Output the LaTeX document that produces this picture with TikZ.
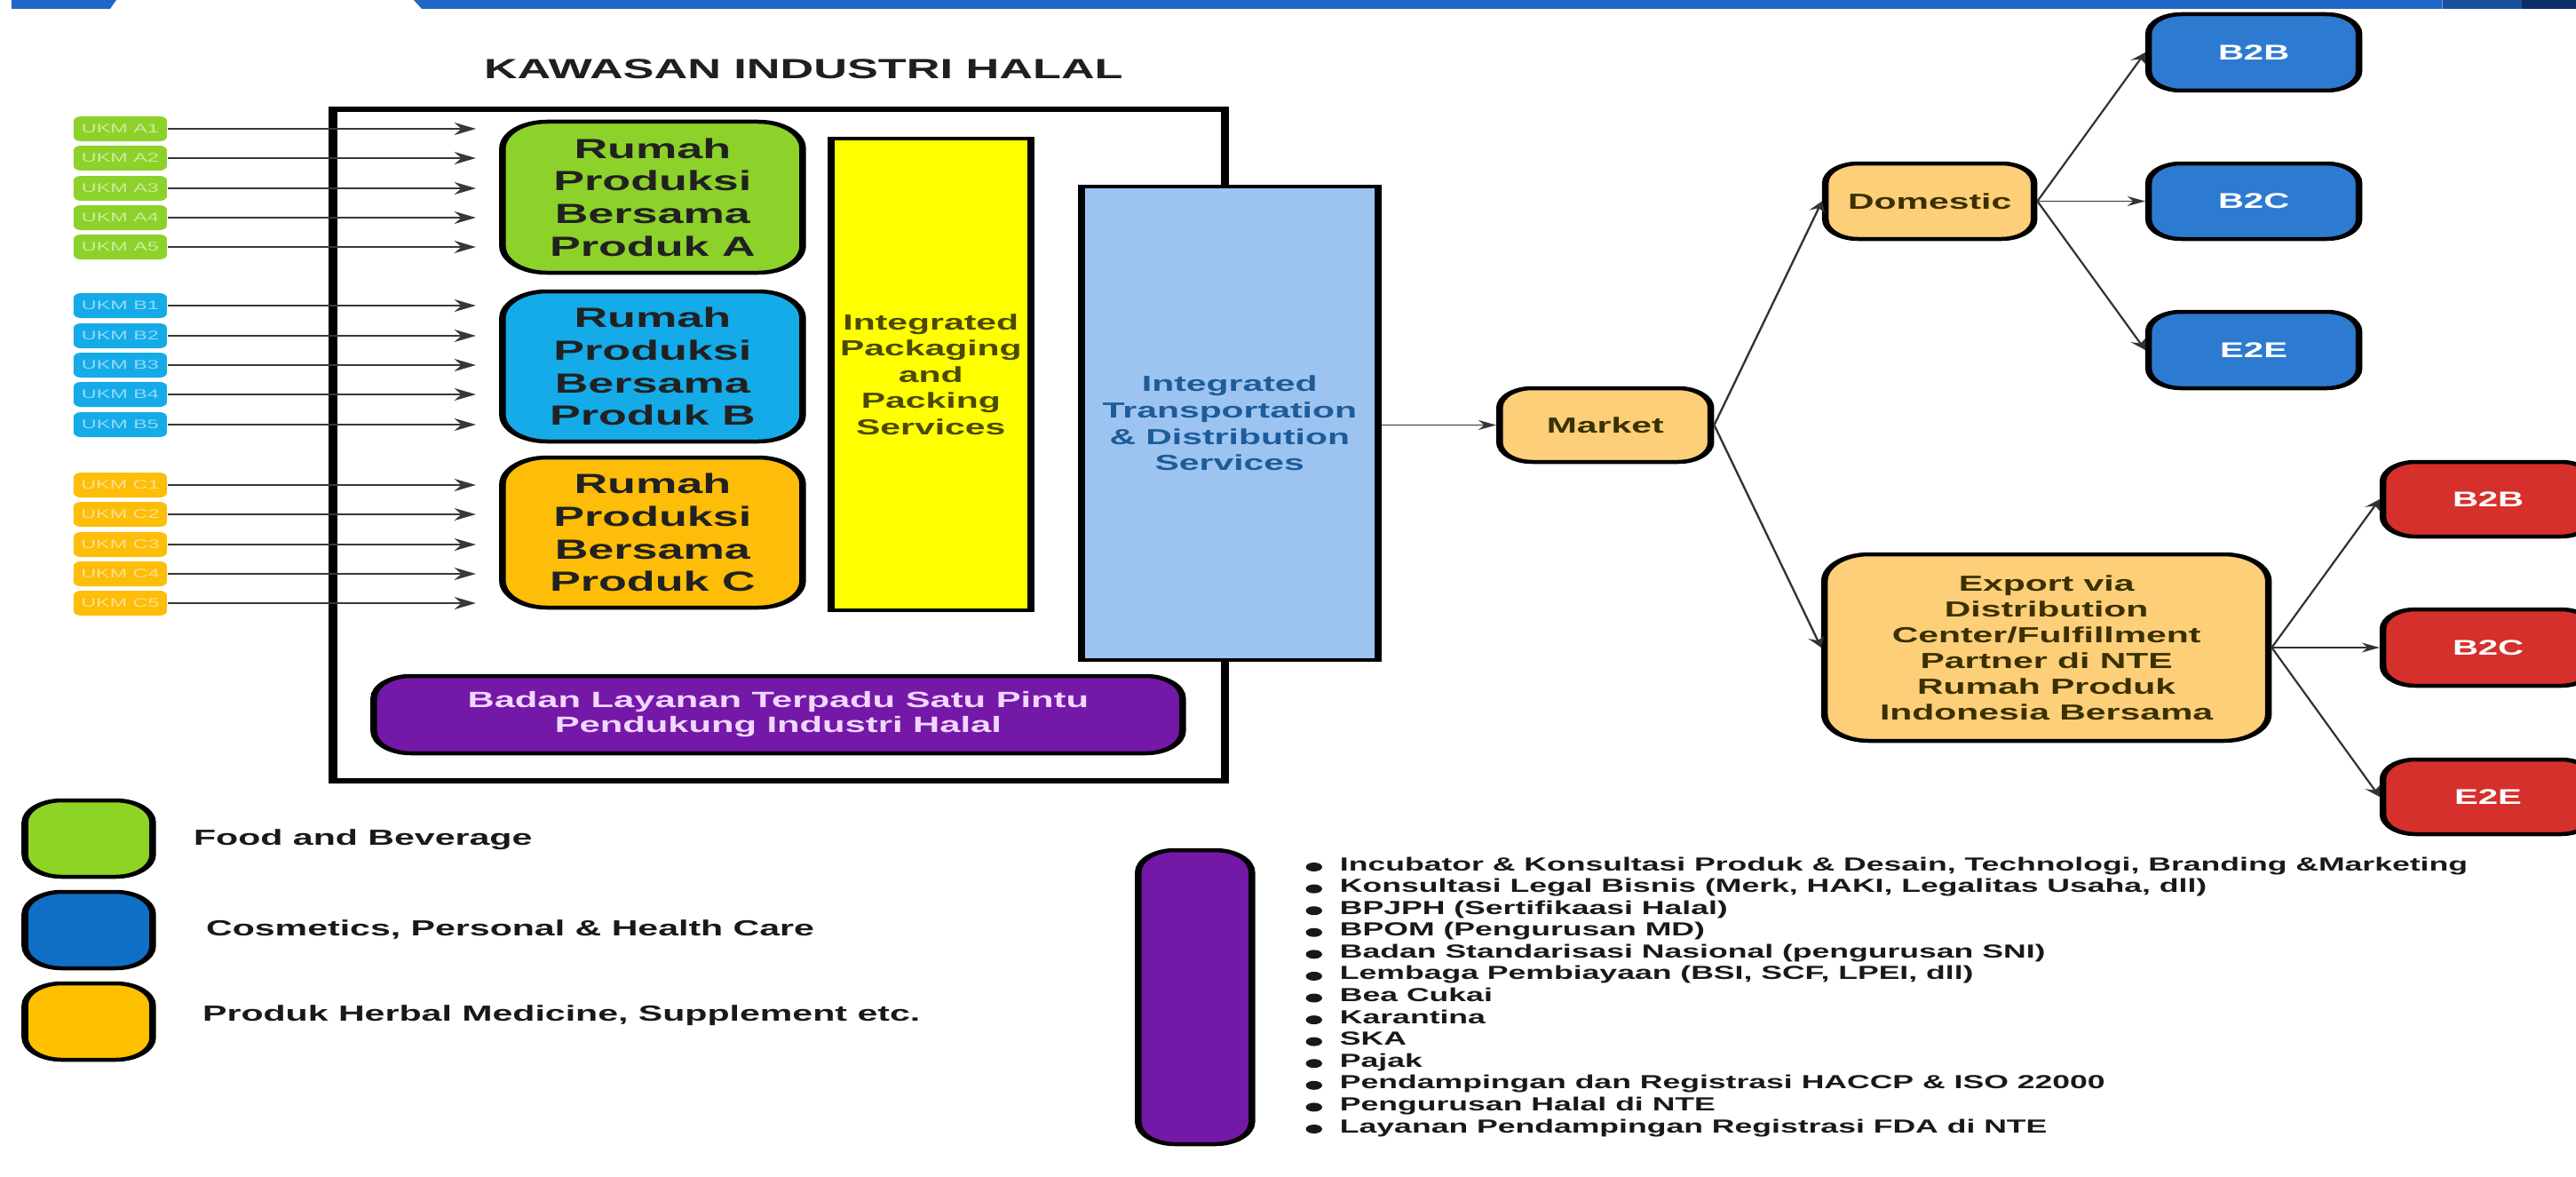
\documentclass[tikz,border=0pt]{standalone}
\usepackage{fontspec}
\setmainfont{Liberation Sans}
\usetikzlibrary{arrows.meta}
\definecolor{cbanner}{HTML}{1F67C6}
\definecolor{cbanner2}{HTML}{17509C}
\definecolor{cbanner3}{HTML}{0E2E66}
\definecolor{cgreen}{HTML}{8DD22A}
\definecolor{cblue}{HTML}{14ABE8}
\definecolor{corange}{HTML}{FDBD08}
\definecolor{lgreen}{HTML}{8ED424}
\definecolor{lblue}{HTML}{0F6FC6}
\definecolor{lorange}{HTML}{FFC000}
\definecolor{cyel}{HTML}{FFFF00}
\definecolor{cltblue}{HTML}{9DC4F1}
\definecolor{cpurp}{HTML}{7418A8}
\definecolor{cmkt}{HTML}{FCCF78}
\definecolor{cbb}{HTML}{2D7BD0}
\definecolor{cred}{HTML}{D5302B}
\definecolor{tyel}{HTML}{4B4A05}
\definecolor{tblue}{HTML}{1D5C99}
\definecolor{tmkt}{HTML}{3B3000}
\definecolor{tpurp}{HTML}{F2D6FF}
\tikzset{
 bx/.style 2 args={minimum width=#1*0.0598802mm, minimum height=#2*0.1mm},
 ukm/.style={rounded corners=0.5mm, inner sep=0pt, font=\fontsize{3.98pt}{4.5pt}\selectfont},
 rbox/.style={draw=black, line width=0.45mm, rounded corners=3mm, inner sep=0pt, align=center, text=black!87, font=\fontsize{8.88pt}{10.44pt}\selectfont\bfseries},
 sbox/.style={draw=black, line width=0.45mm, inner sep=0pt, align=center, font=\fontsize{6.97pt}{8.4pt}\selectfont\bfseries},
 obox/.style={draw=black, line width=0.45mm, rounded corners=2.2mm, inner sep=0pt, align=center, fill=cmkt, text=tmkt, font=\fontsize{6.97pt}{8.25pt}\selectfont\bfseries},
 cbox/.style={draw=black, line width=0.45mm, rounded corners=2.2mm, inner sep=0pt, text=white, font=\fontsize{6.83pt}{8pt}\selectfont\bfseries},
 lgbox/.style={draw=black, line width=0.45mm, rounded corners=2.5mm, inner sep=0pt, bx={144}{86}},
 lgtext/.style={anchor=west, inner sep=0pt, text=black!90, font=\fontsize{7pt}{8pt}\selectfont\bfseries},
 bul/.style={anchor=base west, inner sep=0pt, text=black!90, font=\fontsize{6.06pt}{7pt}\selectfont\bfseries},
 dot/.style={fill=black!90},
 uarr/.style={draw=black!78, line width=0.18mm, -{Stealth[length=1.45mm,width=1.4mm]}},
 arr/.style={draw=black!80, line width=0.15mm, -{Stealth[length=1.2mm,width=1.1mm]}},
}
\begin{document}
\begin{tikzpicture}
\useasboundingbox (0,0) rectangle (290.1mm,-132.5mm);
\begin{scope}[x=0.0598802mm, y=-0.1mm, transform canvas={xscale=1.67}]
% banner
\fill[cbanner] (13,0) -- (131,0) -- (124,10) -- (13,10) -- cycle;
\fill[cbanner] (466,0) -- (2751,0) -- (2751,10) -- (475,10) -- cycle;
\fill[cbanner2] (2751,0) rectangle (2840,10);
\fill[cbanner3] (2840,0) rectangle (2901,10);
% title
\node[inner sep=0pt, font=\fontsize{8.9pt}{10pt}\selectfont\bfseries, text=black!88] (title) at (905,78) {KAWASAN INDUSTRI HALAL};
% frame
\node[draw=black, line width=0.55mm, inner sep=0pt, bx={1005}{756}] (frame) at (877.5,501) {};
% UKM
\foreach \i/\y in {1/145,2/178,3/212,4/245,5/278}{
  \node[ukm, fill=cgreen, text=white!55!cgreen, bx={105}{28}] (uA\i) at (135.5,\y) {UKM A\i};
  \coordinate (tA\i) at (536,\y);
  \draw[uarr] (uA\i) -- (tA\i);
}
\foreach \i/\y in {1/344,2/378,3/411,4/444,5/478}{
  \node[ukm, fill=cblue, text=white!55!cblue, bx={105}{28}] (uB\i) at (135.5,\y) {UKM B\i};
  \coordinate (tB\i) at (536,\y);
  \draw[uarr] (uB\i) -- (tB\i);
}
\foreach \i/\y in {1/546,2/579,3/613,4/646,5/679}{
  \node[ukm, fill=corange, text=white!55!corange, bx={105}{28}] (uC\i) at (135.5,\y) {UKM C\i};
  \coordinate (tC\i) at (536,\y);
  \draw[uarr] (uC\i) -- (tC\i);
}
% rumah produksi
\node[rbox, fill=cgreen, bx={338}{170}] (ra) at (735,222) {Rumah\\Produksi\\Bersama\\Produk A};
\node[rbox, fill=cblue, bx={338}{169}] (rb) at (735,412.5) {Rumah\\Produksi\\Bersama\\Produk B};
\node[rbox, fill=corange, bx={338}{169}] (rc) at (735,599.5) {Rumah\\Produksi\\Bersama\\Produk C};
% packaging
\node[sbox, fill=cyel, text=tyel, bx={225}{531}] (pack) at (1048.5,421.5) {Integrated\\Packaging\\and\\Packing\\Services};
% transport
\node[sbox, fill=cltblue, text=tblue, bx={334}{533}] (trans) at (1385,476.5) {Integrated\\Transportation\\\& Distribution\\Services};
% purple
\node[draw=black, line width=0.45mm, rounded corners=2.5mm, inner sep=0pt, fill=cpurp, text=tpurp, align=center, font=\fontsize{7.11pt}{7.97pt}\selectfont\bfseries, bx={911}{87}] (badan) at (876.5,804.5) {Badan Layanan Terpadu Satu Pintu\\Pendukung Industri Halal};
% market tree
\node[obox, bx={238}{83}] (market) at (1808,478.5) {Market};
\node[obox, bx={235}{85}] (dom) at (2173.5,226.5) {Domestic};
\node[obox, rounded corners=3mm, bx={500}{210}] (exp) at (2305,729) {Export via\\Distribution\\Center/Fulfillment\\Partner di NTE\\Rumah Produk\\Indonesia Bersama};
\node[cbox, fill=cbb, bx={237}{86}] (db2b) at (2538.5,59) {B2B};
\node[cbox, fill=cbb, bx={237}{85}] (db2c) at (2538.5,226.5) {B2C};
\node[cbox, fill=cbb, bx={237}{86}] (de2e) at (2538.5,394) {E2E};
\node[cbox, fill=cred, bx={237}{84}] (eb2b) at (2802.5,562) {B2B};
\node[cbox, fill=cred, bx={237}{86}] (eb2c) at (2802.5,729) {B2C};
\node[cbox, fill=cred, bx={237}{84}] (ee2e) at (2802.5,897) {E2E};
\draw[arr] (trans.east |- market) -- (market.west);
\draw[arr] (market.east) -- (dom.west);
\draw[arr] (market.east) -- (exp.west);
\draw[arr] (dom.east) -- (db2b.west);
\draw[arr] (dom.east) -- (db2c.west);
\draw[arr] (dom.east) -- (de2e.west);
\draw[arr] (exp.east) -- (eb2b.west);
\draw[arr] (exp.east) -- (eb2c.west);
\draw[arr] (exp.east) -- (ee2e.west);
% legend
\node[lgbox, fill=lgreen] (lg1) at (100,944) {};
\node[lgbox, fill=lblue] (lg2) at (100,1047) {};
\node[lgbox, fill=lorange] (lg3) at (100,1150) {};
\node[lgtext] (lt1) at (217,945) {Food and Beverage};
\node[lgtext] (lt2) at (231,1046) {Cosmetics, Personal \& Health Care};
\node[lgtext] (lt3) at (227,1143) {Produk Herbal Medicine, Supplement etc.};
\node[draw=black, line width=0.45mm, rounded corners=2.5mm, inner sep=0pt, fill=cpurp, bx={128}{331}] (lg4) at (1346,1122.5) {};
% services list
\foreach \y in {980,1004.6,1029.2,1053.7,1078.3,1102.9,1127.5,1152.1,1176.6,1201.2,1225.8,1250.4,1275}{
  \fill[dot] (1480,\y-4) ellipse [x radius=0.55mm, y radius=0.5mm];
}
\node[bul] (s1) at (1508,980) {Incubator \& Konsultasi Produk \& Desain, Technologi, Branding \&Marketing};
\node[bul] (s2) at (1508,1004.6) {Konsultasi Legal Bisnis (Merk, HAKI, Legalitas Usaha, dll)};
\node[bul] (s3) at (1508,1029.2) {BPJPH (Sertifikaasi Halal)};
\node[bul] (s4) at (1508,1053.7) {BPOM (Pengurusan MD)};
\node[bul] (s5) at (1508,1078.3) {Badan Standarisasi Nasional (pengurusan SNI)};
\node[bul] (s6) at (1508,1102.9) {Lembaga Pembiayaan (BSI, SCF, LPEI, dll)};
\node[bul] (s7) at (1508,1127.5) {Bea Cukai};
\node[bul] (s8) at (1508,1152.1) {Karantina};
\node[bul] (s9) at (1508,1176.6) {SKA};
\node[bul] (s10) at (1508,1201.2) {Pajak};
\node[bul] (s11) at (1508,1225.8) {Pendampingan dan Registrasi HACCP \& ISO 22000};
\node[bul] (s12) at (1508,1250.4) {Pengurusan Halal di NTE};
\node[bul] (s13) at (1508,1275) {Layanan Pendampingan Registrasi FDA di NTE};
\end{scope}
\end{tikzpicture}
\end{document}
